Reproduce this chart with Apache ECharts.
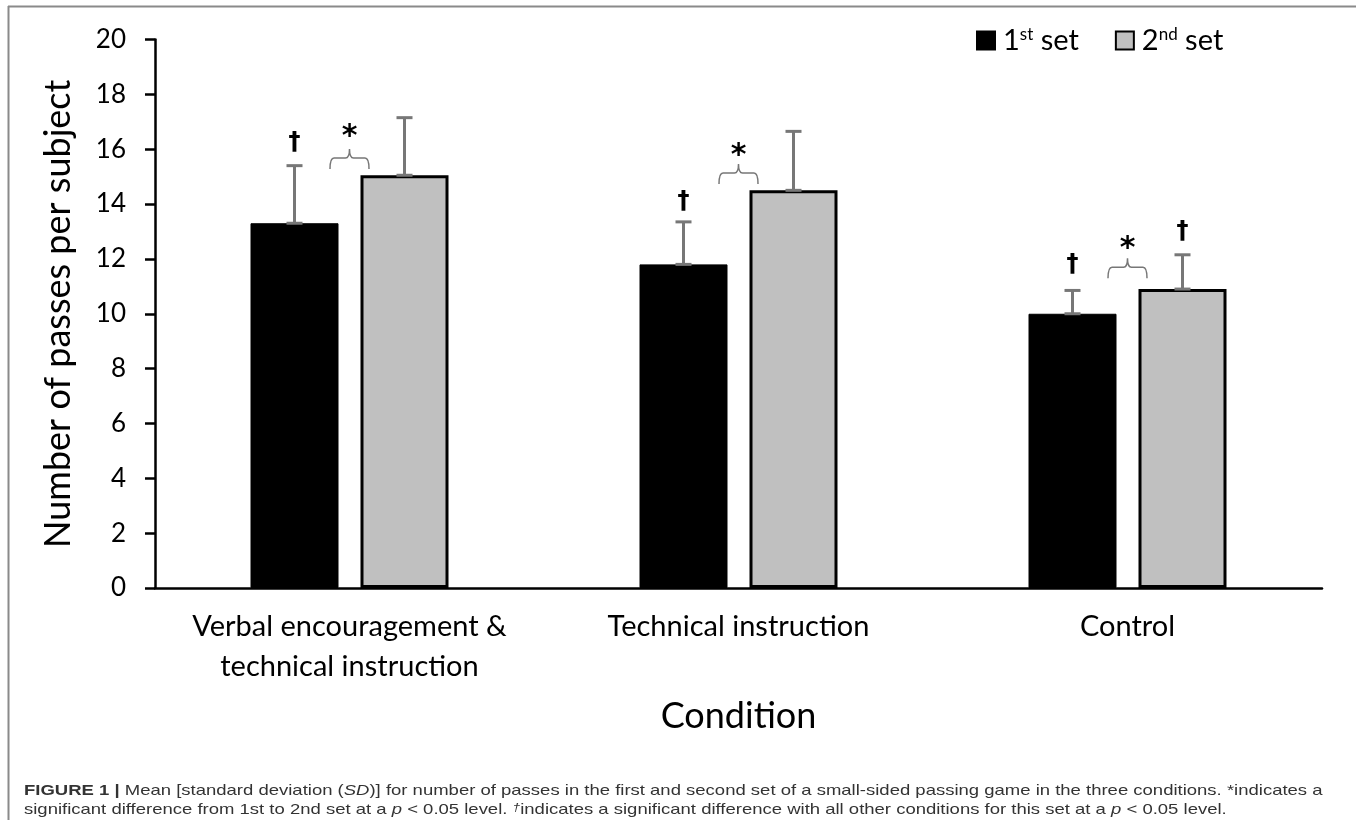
<!DOCTYPE html>
<html>
<head>
<meta charset="utf-8">
<script src="https://cdn.jsdelivr.net/npm/echarts@6/dist/echarts.min.js"></script>
<style>
html,body{margin:0;padding:0;background:#fff;}
#c{width:1356px;height:820px;}
</style>
</head>
<body>
<div id="c"></div>
<script>
// ---- data ----
var categories = ['Verbal encouragement &\ntechnical instruction', 'Technical instruction', 'Control'];
var seriesNames = ['1st set', '2nd set'];
var set1Means = [13.3, 11.8, 10.0];
var set1SD = [2.1, 1.55, 0.85];
var set2Means = [15.05, 14.5, 10.9];
var set2SD = [2.1, 2.15, 1.25];
var yTicks = [0, 2, 4, 6, 8, 10, 12, 14, 16, 18, 20];
// significance annotations
var starY = [16.7, 16.0, 12.6];          // '*' above brace between sets
var braceY = [15.68, 15.13, 11.7];       // brace level between sets
var daggers = [[0, 0, 16.25], [1, 0, 14.1], [2, 0, 11.8], [2, 1, 13.0]]; // [category, set, y]

var chart = echarts.init(document.getElementById('c'));
var FONT = 'Lato';
var BAR_W = 88, BAR_GAP_PX = 22;
var OFF = (BAR_W + BAR_GAP_PX) / 2;

function errData(means, sds) {
  return means.map(function (m, i) { return [i, m, m + sds[i]]; });
}
function errRender(sign) {
  return function (params, api) {
    var x = api.value(0);
    var p0 = api.coord([x, api.value(1)]);
    var p1 = api.coord([x, api.value(2)]);
    var cx = p0[0] + sign * OFF;
    var half = 8;
    var st = { stroke: '#777', lineWidth: 3 };
    return {
      type: 'group',
      children: [
        { type: 'line', shape: { x1: cx, y1: p0[1], x2: cx, y2: p1[1] }, style: st },
        { type: 'line', shape: { x1: cx - half, y1: p1[1], x2: cx + half, y2: p1[1] }, style: st },
        { type: 'line', shape: { x1: cx - half, y1: p0[1], x2: cx + half, y2: p0[1] }, style: st }
      ]
    };
  };
}

var option = {
  animation: false,
  backgroundColor: '#fff',
  textStyle: { fontFamily: FONT },
  grid: { left: 155, right: 34, top: 39.5, bottom: 232, containLabel: false },
  legend: {
    data: seriesNames,
    left: 971, top: 21,
    itemWidth: 18, itemHeight: 18, itemGap: 36,
    icon: 'rect',
    formatter: function (n) { return n === '1st set' ? '1{s|st} set' : '2{s|nd} set'; },
    textStyle: {
      fontFamily: FONT, fontSize: 29, color: '#000', padding: [0, 0, 0, 3],
      rich: {
        s: { fontFamily: FONT, fontSize: 17, verticalAlign: 'top', lineHeight: 14 }
      }
    }
  },
  xAxis: {
    type: 'category',
    data: categories,
    name: 'Condition',
    nameLocation: 'middle',
    nameGap: 110,
    nameTextStyle: { fontFamily: FONT, fontSize: 36, color: '#000' },
    axisLine: { lineStyle: { color: '#000', width: 2.5 } },
    axisTick: { show: false },
    axisLabel: { fontFamily: FONT, fontSize: 29, color: '#000', lineHeight: 40, margin: 19, interval: 0 }
  },
  yAxis: {
    type: 'value',
    min: 0, max: 20, interval: 2,
    name: 'Number of passes per subject',
    nameLocation: 'middle',
    nameGap: 79,
    nameTextStyle: { fontFamily: FONT, fontSize: 36, color: '#000' },
    axisLine: { show: true, lineStyle: { color: '#000', width: 2.5 } },
    axisTick: { show: true, length: 10, lineStyle: { color: '#000', width: 2.5 } },
    splitLine: { show: false },
    axisLabel: {
      fontFamily: FONT, fontSize: 26, color: '#000', margin: 29,
      formatter: function (v) { return yTicks.indexOf(v) >= 0 ? String(v) : ''; }
    }
  },
  series: [
    {
      name: seriesNames[0], type: 'bar', data: set1Means,
      barWidth: BAR_W, barGap: (BAR_GAP_PX / BAR_W * 100) + '%',
      itemStyle: { color: '#000', borderColor: '#000', borderWidth: 1 },
      z: 2
    },
    {
      name: seriesNames[1], type: 'bar', data: set2Means,
      barWidth: BAR_W,
      itemStyle: { color: '#c0c0c0', borderColor: '#000', borderWidth: 3 },
      z: 2
    },
    {
      type: 'custom', data: errData(set1Means, set1SD), renderItem: errRender(-1),
      encode: { x: 0, y: [1, 2] }, z: 3, silent: true
    },
    {
      type: 'custom', data: errData(set2Means, set2SD), renderItem: errRender(1),
      encode: { x: 0, y: [1, 2] }, z: 3, silent: true
    },
    {
      type: 'custom',
      data: braceY.map(function (b, i) { return [i, b, starY[i]]; }),
      encode: { x: 0, y: [1, 2] }, z: 4, silent: true,
      renderItem: function (params, api) {
        var x = api.value(0);
        var p = api.coord([x, api.value(1)]);
        var s = api.coord([x, api.value(2)]);
        var cx = p[0], y = p[1];
        var hw = 19.5, tip = 9, drop = 11;
        var path = 'M' + (cx - hw) + ',' + (y + drop) +
          ' Q' + (cx - hw) + ',' + y + ' ' + (cx - hw + 4) + ',' + y +
          ' L' + (cx - 4) + ',' + y +
          ' Q' + cx + ',' + y + ' ' + cx + ',' + (y - tip) +
          ' Q' + cx + ',' + y + ' ' + (cx + 4) + ',' + y +
          ' L' + (cx + hw - 4) + ',' + y +
          ' Q' + (cx + hw) + ',' + y + ' ' + (cx + hw) + ',' + (y + drop);
        return {
          type: 'group',
          children: [
            { type: 'path', shape: { pathData: path }, style: { fill: null, stroke: '#777', lineWidth: 1.5 } },
            { type: 'text', x: cx, y: s[1] + 7, style: { text: '*', fontFamily: 'DejaVu Sans', fontSize: 30, fontWeight: 'bold', fill: '#000', align: 'center', verticalAlign: 'middle' } }
          ]
        };
      }
    },
    {
      type: 'custom',
      data: daggers,
      encode: { x: 0, y: 2 }, z: 4, silent: true,
      renderItem: function (params, api) {
        var p = api.coord([api.value(0), api.value(2)]);
        var cx = p[0] + (api.value(1) === 0 ? -OFF : OFF);
        return { type: 'text', x: cx, y: p[1], style: { text: '†', fontFamily: 'DejaVu Sans', fontSize: 24, fontWeight: 'bold', fill: '#000', align: 'center', verticalAlign: 'middle' } };
      }
    }
  ],
  graphic: [
    { type: 'line', shape: { x1: 8, y1: 6.5, x2: 1356, y2: 6.5 }, style: { stroke: '#8a8a8a', lineWidth: 2 } },
    { type: 'line', shape: { x1: 8.5, y1: 6, x2: 8.5, y2: 820 }, style: { stroke: '#8a8a8a', lineWidth: 2 } },
    {
      type: 'text', x: 24, y: 791, scaleX: 1.25,
      style: {
        text: '{b|FIGURE 1 |} Mean [standard deviation ({i|SD})] for number of passes in the first and second set of a small-sided passing game in the three conditions. *indicates a',
        fontFamily: 'Liberation Sans', fontSize: 14.8, fill: '#333', verticalAlign: 'middle',
        rich: {
          b: { fontFamily: 'Liberation Sans', fontSize: 14.8, fontWeight: 'bold', fill: '#333' },
          i: { fontFamily: 'Liberation Sans', fontSize: 14.8, fontStyle: 'italic', fill: '#333' }
        }
      }
    },
    {
      type: 'text', x: 24, y: 810, scaleX: 1.25,
      style: {
        text: 'significant difference from 1st to 2nd set at a {i|p} < 0.05 level. {sup|†}indicates a significant difference with all other conditions for this set at a {i|p} < 0.05 level.',
        fontFamily: 'Liberation Sans', fontSize: 14.8, fill: '#333', verticalAlign: 'middle',
        rich: {
          i: { fontFamily: 'Liberation Sans', fontSize: 14.8, fontStyle: 'italic', fill: '#333' },
          sup: { fontFamily: 'Liberation Sans', fontSize: 11, fontStyle: 'italic', fill: '#333', verticalAlign: 'top' }
        }
      }
    }
  ]
};
chart.setOption(option);
</script>
</body>
</html>
